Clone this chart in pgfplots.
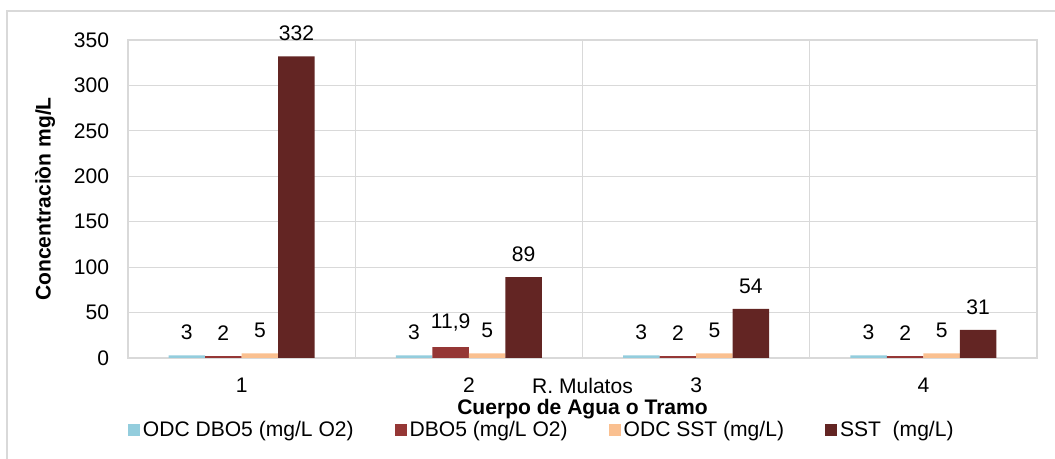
\documentclass[border=0pt]{standalone}
\usepackage{pgfplots}
\pgfplotsset{compat=1.18}
\usepackage{fontspec}
\setmainfont{Liberation Sans}
\definecolor{odcdbo}{HTML}{93CDDD}
\definecolor{dbo}{HTML}{953735}
\definecolor{odcsst}{HTML}{FAC090}
\definecolor{sst}{HTML}{632523}
\definecolor{gridgray}{HTML}{D9D9D9}
\newcommand\chartfont{\fontsize{15.8}{19}\selectfont}

\begin{document}
\chartfont
\begin{tikzpicture}
\useasboundingbox (0,0) rectangle (791.25pt,344.25pt);
\draw[gridgray, line width=0.9pt] (5.25pt,-20pt) rectangle (810pt,336pt);
\begin{axis}[
  at={(96pt,75.75pt)}, anchor=south west,
  scale only axis, width=681.75pt, height=238.5pt,
  clip=false,
  ybar, bar width=0.1608,
  xmin=0.5, xmax=4.5, ymin=0, ymax=350,
  ytick={0,50,...,350},
  xtick={1,2,3,4},
  minor xtick={0.5,1.5,2.5,3.5,4.5},
  xminorgrids, ymajorgrids,
  grid style={gridgray, line width=0.9pt},
  minor grid style={gridgray, line width=0.9pt},
  axis line style={gridgray, line width=0.9pt},
  major tick length=0pt, minor tick length=0pt,
  /pgf/number format/assume math mode=true,
  tick label style={font=\chartfont, black},
  yticklabel style={inner sep=0pt, xshift=-14pt},
  xticklabel style={inner sep=0pt, yshift=-15pt},
  label style={font=\chartfont\bfseries},
  xlabel={Cuerpo de Agua o Tramo},
  ylabel={Concentraciòn mg/L},
  xlabel style={at={(axis description cs:0.5,-0.162)}, anchor=center},
  ylabel style={at={(axis description cs:-0.0913,0.5)}, anchor=center},
  nodes near coords,
  point meta=explicit symbolic,
  every node near coord/.append style={font=\chartfont, anchor=south, inner sep=0pt, yshift=11.5pt},
  legend columns=4,
  legend style={draw=none, fill=none, font=\chartfont, inner sep=0pt,
    at={(axis description cs:0,-0.2264)}, anchor=west,
    nodes={inner xsep=2pt},
    /tikz/every even column/.append style={column sep=29pt}},
  legend image code/.code={\fill (0pt,-4.5pt) rectangle (9pt,4.5pt);},
]
\addplot[fill=odcdbo, draw=none, bar shift=-0.2412] table[meta=lab] {
x y lab
1 3 3
2 3 3
3 3 3
4 3 3
};
\addplot[fill=dbo, draw=none, bar shift=-0.0804] table[meta=lab] {
x y lab
1 2 2
2 11.9 11,9
3 2 2
4 2 2
};
\addplot[fill=odcsst, draw=none, bar shift=0.0804] table[meta=lab] {
x y lab
1 5 5
2 5 5
3 5 5
4 5 5
};
\addplot[fill=sst, draw=none, bar shift=0.2412] table[meta=lab] {
x y lab
1 332 332
2 89 89
3 54 54
4 31 31
};
\legend{ODC DBO5 (mg/L O2), DBO5 (mg/L O2), ODC SST (mg/L), SST\ \ (mg/L)}
\node[anchor=north, inner sep=0pt, yshift=-15pt, font=\chartfont] at (axis cs:2.5,0) {R. Mulatos};
\end{axis}
\end{tikzpicture}
\end{document}
